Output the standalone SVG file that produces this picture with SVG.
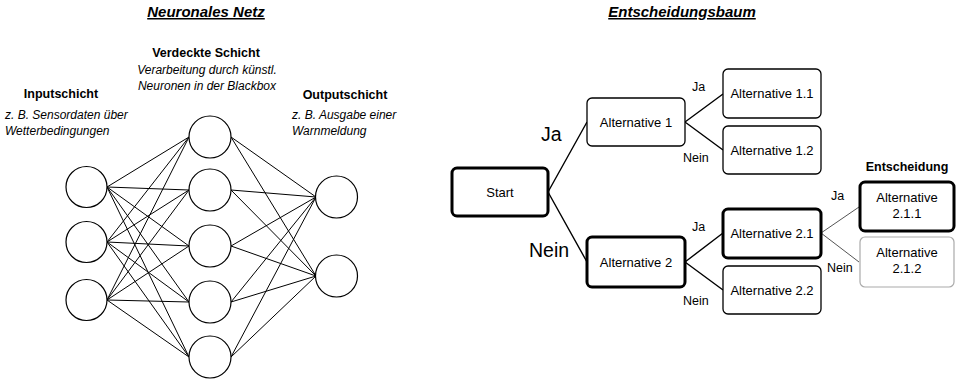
<svg xmlns="http://www.w3.org/2000/svg" width="956" height="380" viewBox="0 0 956 380">
<style>
text{font-family:"Liberation Sans",Arial,sans-serif;fill:#000}
.title{font-size:15px;font-weight:bold;font-style:italic;text-decoration:underline}
.hd{font-size:12.5px;font-weight:bold}
.it{font-size:12px;font-style:italic}
.bx{font-size:13px}
.lbl{font-size:12.5px}
.big{font-size:19.5px}
.neuron{fill:#fff;stroke:#000;stroke-width:1.2}
.syn{stroke:#000;stroke-width:1;fill:none}
.thin{fill:#fff;stroke:#000;stroke-width:1.3}
.thick{fill:#fff;stroke:#000;stroke-width:3}
.faint{fill:#fff;stroke:#aaa;stroke-width:1.2}
.edge{stroke:#000;stroke-width:1.4;fill:none}
.edgeg{stroke:#555;stroke-width:1;fill:none}
</style>

<text class="title" x="206" y="17" text-anchor="middle">Neuronales Netz</text>
<text class="title" x="682" y="17" text-anchor="middle">Entscheidungsbaum</text>

<g id="label-hidden">
<text class="hd" x="206" y="57" text-anchor="middle">Verdeckte Schicht</text>
<text class="it" x="207" y="74" text-anchor="middle">Verarbeitung durch künstl.</text>
<text class="it" x="207" y="90" text-anchor="middle">Neuronen in der Blackbox</text>
</g>
<g id="label-input">
<text class="hd" x="61" y="98" text-anchor="middle">Inputschicht</text>
<text class="it" x="5" y="119">z. B. Sensordaten über</text>
<text class="it" x="5" y="135">Wetterbedingungen</text>
</g>
<g id="label-output">
<text class="hd" x="345" y="99" text-anchor="middle">Outputschicht</text>
<text class="it" x="292" y="119">z. B. Ausgabe einer</text>
<text class="it" x="292" y="135">Warnmeldung</text>
</g>

<g id="synapses">
<path class="syn" d="M107,187L189,137M107,187L189,190M107,187L189,246M107,187L189,302M107,187L189,357
M107,242L189,137M107,242L189,190M107,242L189,246M107,242L189,302M107,242L189,357
M107,300L189,137M107,300L189,190M107,300L189,246M107,300L189,302M107,300L189,357
M231,137L316,197M231,137L316,276M231,190L316,197M231,190L316,276M231,246L316,197M231,246L316,276
M231,302L316,197M231,302L316,276M231,357L316,197M231,357L316,276"/>
</g>

<g id="in1"><circle class="neuron" cx="86.5" cy="187" r="20.5"/></g>
<g id="in2"><circle class="neuron" cx="86.5" cy="242" r="20.5"/></g>
<g id="in3"><circle class="neuron" cx="86.5" cy="300" r="20.5"/></g>
<g id="h1"><circle class="neuron" cx="210" cy="137" r="21"/></g>
<g id="h2"><circle class="neuron" cx="210" cy="190" r="21"/></g>
<g id="h3"><circle class="neuron" cx="210" cy="246" r="21"/></g>
<g id="h4"><circle class="neuron" cx="210" cy="302" r="21"/></g>
<g id="h5"><circle class="neuron" cx="210" cy="357" r="21"/></g>
<g id="out1"><circle class="neuron" cx="336.5" cy="197" r="21"/></g>
<g id="out2"><circle class="neuron" cx="336.5" cy="276" r="21"/></g>

<g id="connectors">
<path class="edge" d="M548,192L587,122M548,192L587,262M685,122L723,94M685,122L723,150M685,262L723,233M685,262L723,290"/>
<path class="edgeg" d="M821,233L859,207M821,233L859,262"/>
</g>

<g id="edge-labels">
<text class="big" x="541" y="141">Ja</text>
<text class="big" x="529" y="257">Nein</text>
<text class="lbl" x="692" y="91">Ja</text>
<text class="lbl" x="683" y="162">Nein</text>
<text class="lbl" x="692" y="231">Ja</text>
<text class="lbl" x="683" y="305">Nein</text>
<text class="lbl" x="831" y="200">Ja</text>
<text class="lbl" x="827" y="272">Nein</text>
<text class="hd" x="907" y="171" text-anchor="middle">Entscheidung</text>
</g>

<g id="start"><rect class="thick" x="452" y="168" width="96" height="48" rx="5"/><text class="bx" x="500" y="197" text-anchor="middle">Start</text></g>
<g id="alt1"><rect class="thin" x="587" y="98" width="98" height="48" rx="5"/><text class="bx" x="636" y="127" text-anchor="middle">Alternative 1</text></g>
<g id="alt11"><rect class="thin" x="723" y="69" width="98" height="49" rx="5"/><text class="bx" x="772" y="98" text-anchor="middle">Alternative 1.1</text></g>
<g id="alt12"><rect class="thin" x="723" y="126" width="98" height="48" rx="5"/><text class="bx" x="772" y="155" text-anchor="middle">Alternative 1.2</text></g>
<g id="alt2"><rect class="thick" x="587" y="237" width="98" height="50" rx="5"/><text class="bx" x="636" y="267" text-anchor="middle">Alternative 2</text></g>
<g id="alt21"><rect class="thick" x="723" y="209" width="98" height="49" rx="5"/><text class="bx" x="772" y="238" text-anchor="middle">Alternative 2.1</text></g>
<g id="alt22"><rect class="thin" x="723" y="266" width="98" height="48" rx="5"/><text class="bx" x="772" y="295" text-anchor="middle">Alternative 2.2</text></g>
<g id="alt211"><rect class="thick" x="860" y="182" width="94" height="49" rx="5"/><text class="bx" x="907" y="202" text-anchor="middle">Alternative</text><text class="bx" x="907" y="218" text-anchor="middle">2.1.1</text></g>
<g id="alt212"><rect class="faint" x="860" y="237" width="94" height="50" rx="5"/><text class="bx" x="907" y="257" text-anchor="middle">Alternative</text><text class="bx" x="907" y="273" text-anchor="middle">2.1.2</text></g>
</svg>
